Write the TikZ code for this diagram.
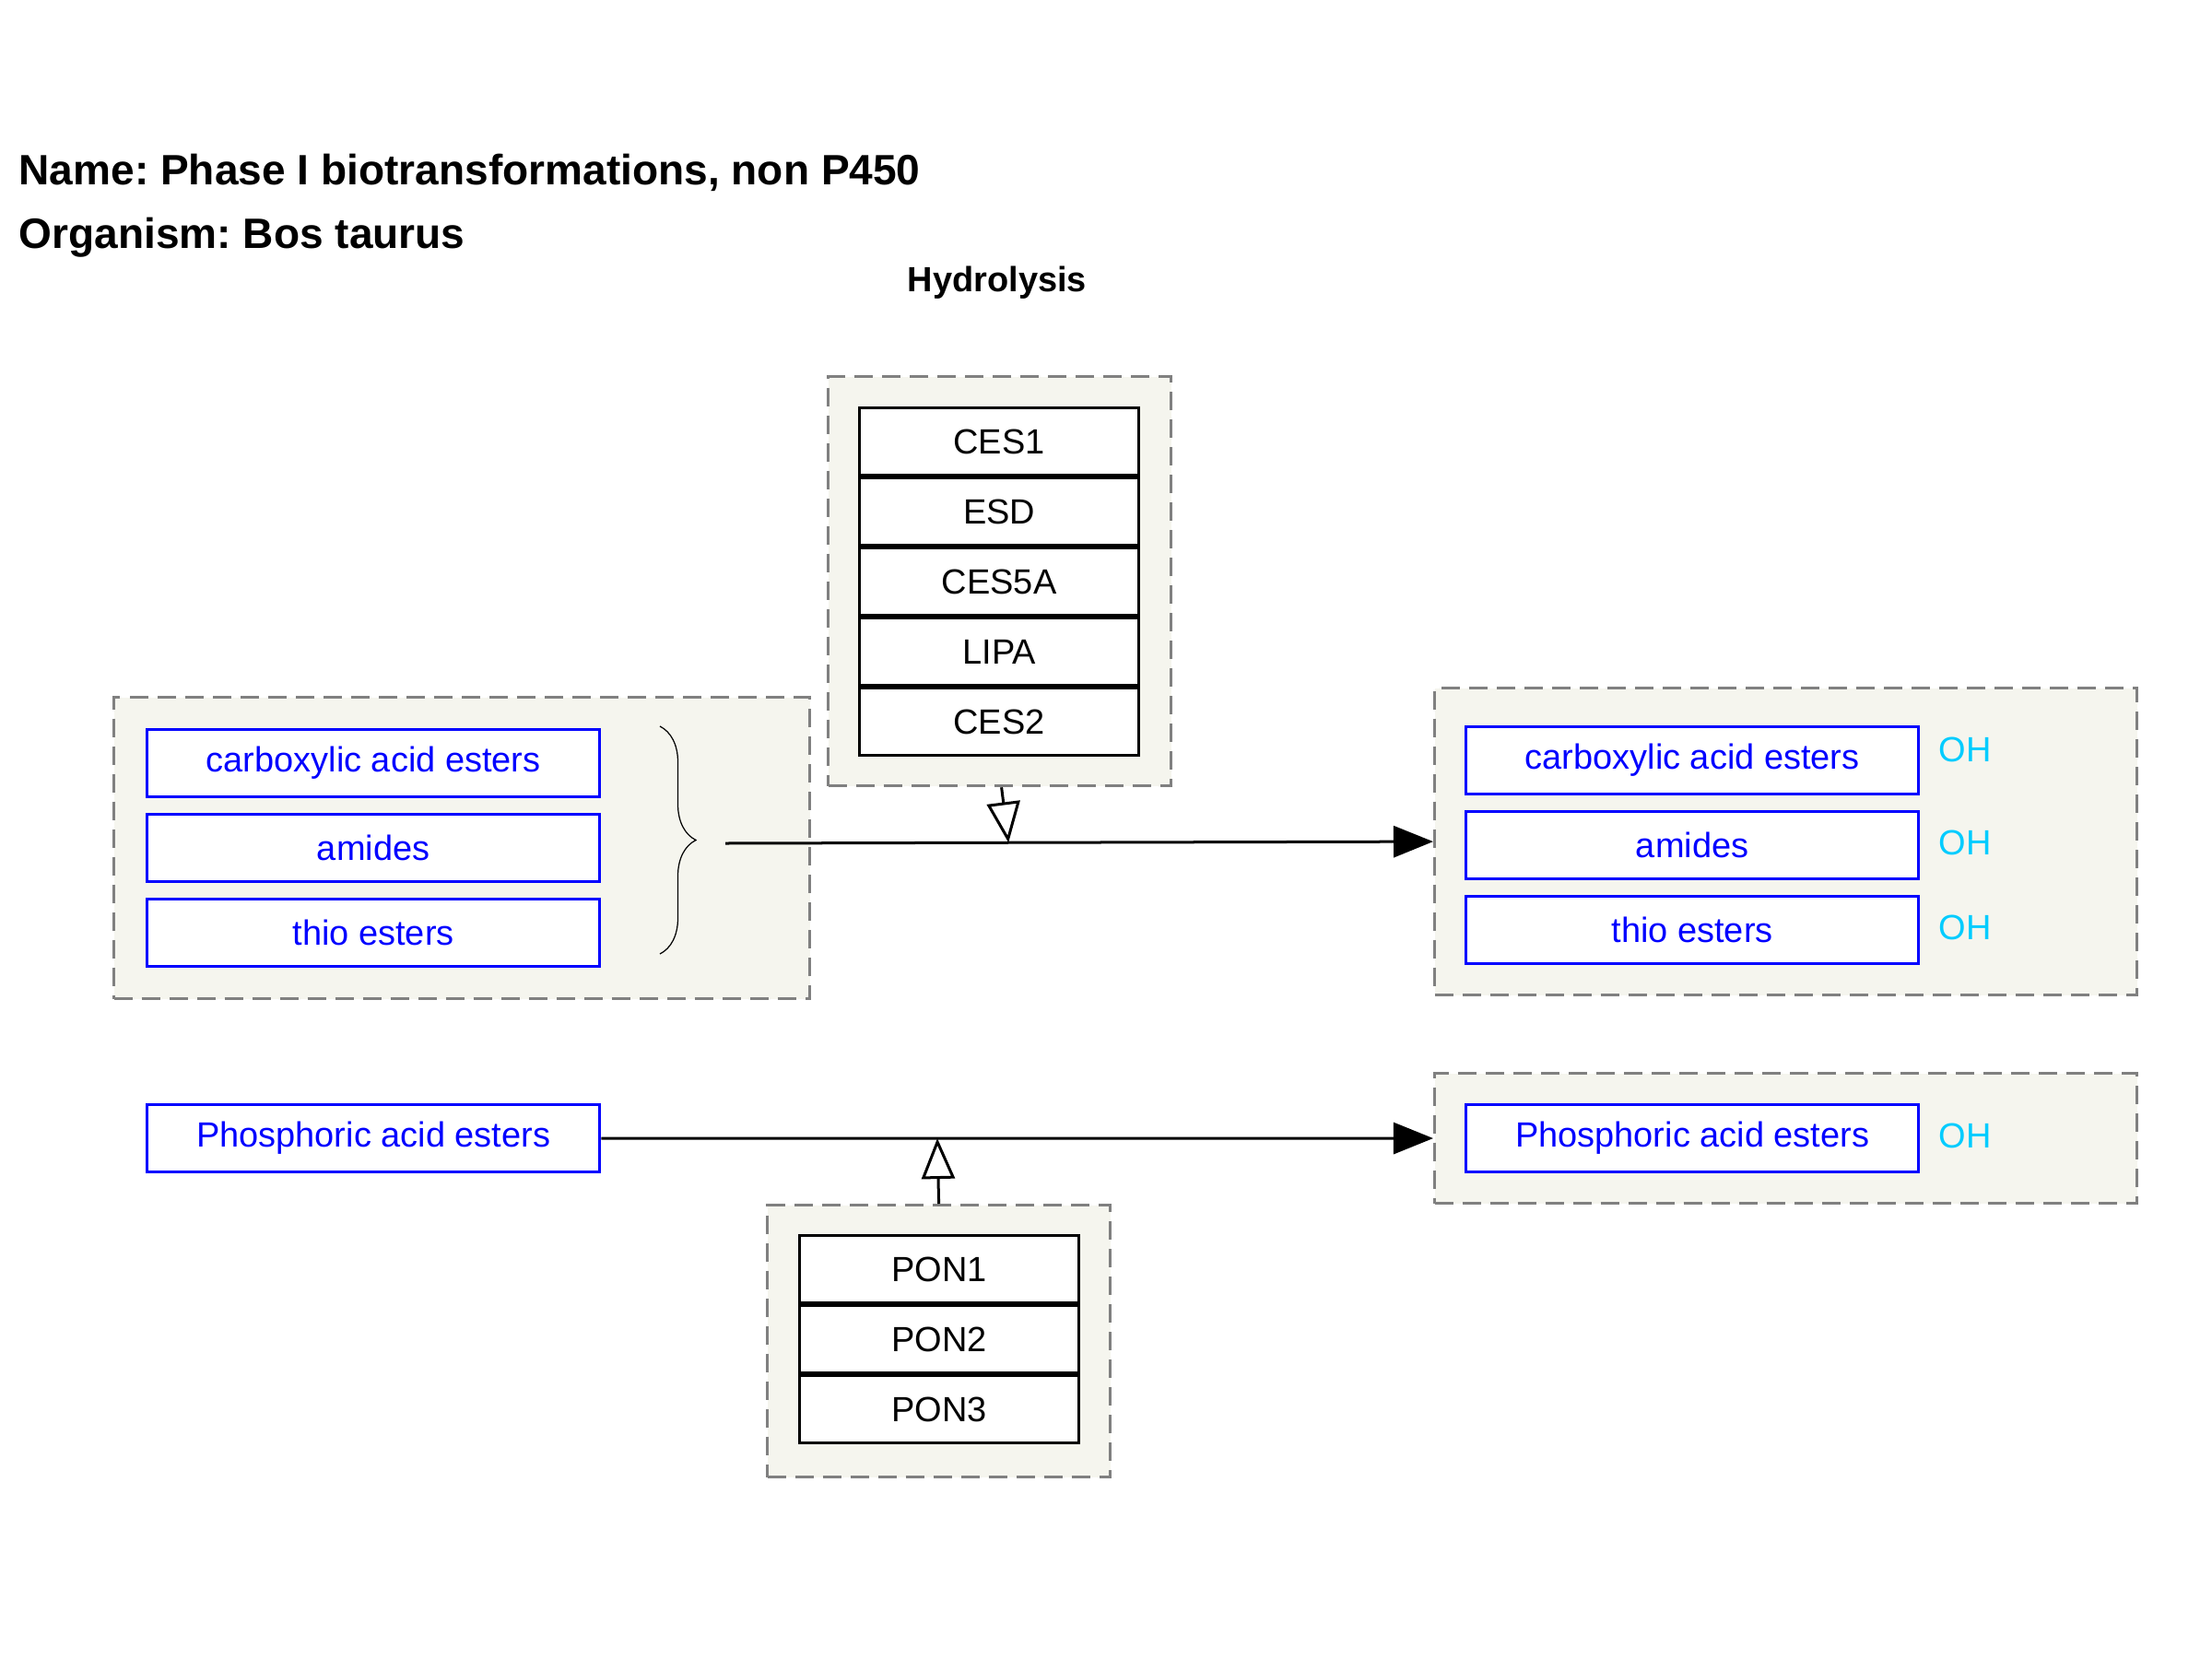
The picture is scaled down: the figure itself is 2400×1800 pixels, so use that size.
\documentclass[tikz,border=0pt]{standalone}
\usepackage{fontspec}
\setmainfont{Liberation Sans}
\usetikzlibrary{arrows.meta,positioning,calc,decorations.pathreplacing}
\frenchspacing

\definecolor{groupfill}{RGB}{245,245,238}
\definecolor{groupline}{RGB}{128,128,128}
\definecolor{ohcyan}{RGB}{0,204,255}

\tikzset{
  group/.style={draw=groupline, fill=groupfill, line width=0.03cm,
    dash pattern=on 0.2cm off 0.1cm, inner sep=0pt, anchor=north west},
  gene/.style={draw=black, fill=white, line width=0.03cm, minimum width=3.03cm,
    minimum height=0.73cm, inner sep=0pt, font=\fontsize{10.8}{12}\selectfont},
  metab/.style={draw=blue, fill=white, text=blue, line width=0.03cm,
    minimum width=4.91cm, minimum height=0.73cm, inner sep=0pt,
    font=\fontsize{10.8}{12}\selectfont},
  ohlabel/.style={text=ohcyan, inner sep=0pt, anchor=west,
    font=\fontsize{10.8}{12}\selectfont},
  conv/.style={line width=0.03cm, -{Triangle[length=0.43cm,width=0.34cm]}},
  catal/.style={line width=0.03cm, -{Triangle[open,length=0.44cm,width=0.36cm,fill=white]}},
}

\begin{document}
\begin{tikzpicture}[x=0.01cm, y=-0.01cm]
   \useasboundingbox (0,0) rectangle (2400,1800);

   % titles
   \node[anchor=base west, inner sep=0pt, font=\fontsize{13.1}{15}\selectfont\bfseries] (name) at (20,200) {Name: Phase I biotransformations, non P450};
   \node[anchor=base west, inner sep=0pt, font=\fontsize{13.1}{15}\selectfont\bfseries] (organism) at (20,269) {Organism: Bos taurus};
   \node[anchor=base, inner sep=0pt, font=\fontsize{10.8}{12}\selectfont\bfseries] (hydrolysis) at (1082,316) {Hydrolysis};

   % groups
   \node[group, minimum width=3.72cm, minimum height=4.44cm] (enzgroup) at (897,407) {};
   \node[group, minimum width=7.55cm, minimum height=3.27cm] (subgroup) at (122,755) {};
   \node[group, minimum width=7.62cm, minimum height=3.33cm] (prodgroup) at (1555,745) {};
   \node[group, minimum width=7.62cm, minimum height=1.41cm] (phosgroup) at (1555,1163) {};
   \node[group, minimum width=3.72cm, minimum height=2.95cm] (pongroup) at (831,1306) {};

   % enzymes
   \node[gene, anchor=north west] (ces1) at (931,441) {CES1};
   \node[gene, below=0pt of ces1] (esd) {ESD};
   \node[gene, below=0pt of esd] (ces5a) {CES5A};
   \node[gene, below=0pt of ces5a] (lipa) {LIPA};
   \node[gene, below=0pt of lipa] (ces2) {CES2};

   \node[gene, anchor=north west] (pon1) at (866,1339) {PON1};
   \node[gene, below=0pt of pon1] (pon2) {PON2};
   \node[gene, below=0pt of pon2] (pon3) {PON3};

   % substrates
   \node[metab, anchor=north west] (carb) at (158,790) {carboxylic acid esters};
   \node[metab, below=0.16cm of carb] (amide) {amides};
   \node[metab, below=0.16cm of amide] (thio) {thio esters};
   \node[metab, anchor=north west] (phos) at (158,1197) {Phosphoric acid esters};

   % products
   \node[metab, anchor=north west] (carbprod) at (1589,787) {carboxylic acid esters};
   \node[metab, below=0.16cm of carbprod] (amideprod) {amides};
   \node[metab, below=0.16cm of amideprod] (thioprod) {thio esters};
   \node[metab, anchor=north west] (phosprod) at (1589,1197) {Phosphoric acid esters};

   \node[ohlabel] (oh1) at (2103,813) {OH};
   \node[ohlabel] (oh2) at (2103,914) {OH};
   \node[ohlabel] (oh3) at (2103,1006) {OH};
   \node[ohlabel] (oh4) at (2103,1232) {OH};

   % brace
   \draw[line width=0.35pt, decorate, decoration={brace, amplitude=0.39cm}] (716,788) -- (716,1035);

   % reactions
   \coordinate (substart) at (787,915);
   \draw[conv] (substart) -- (prodgroup.west);
   \coordinate (hydcat) at ($(substart)!0.4!(prodgroup.west)$);
   \draw[catal] ($(enzgroup.south)+(2,0)$) -- (hydcat);

   \draw[conv] (phos.east) -- (phosgroup.west);
   \coordinate (poncat) at ($(phos.east)!0.404!(phosgroup.west)$);
   \draw[catal] (pongroup.north) -- (poncat);
\end{tikzpicture}
\end{document}
